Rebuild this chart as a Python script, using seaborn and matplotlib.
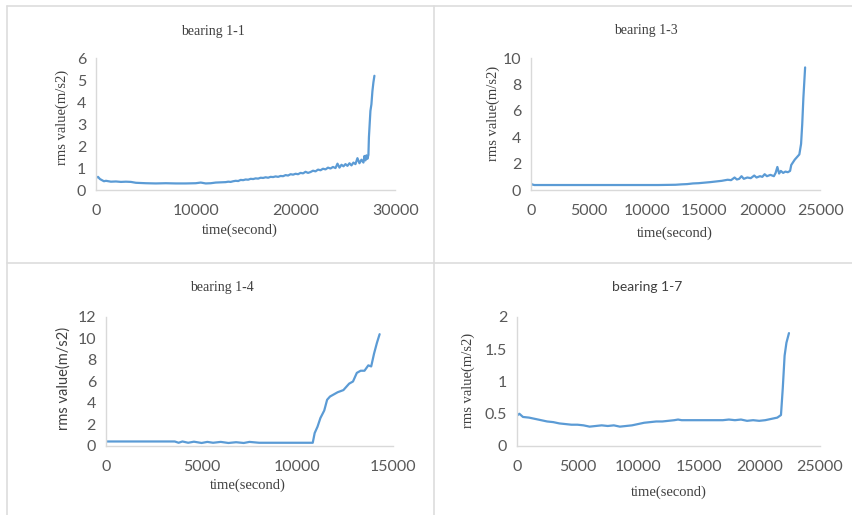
import numpy as np
import pandas as pd

import matplotlib.pyplot as plt
from matplotlib.lines import Line2D
import seaborn as sns

# bearing 1-1
t11 = [0, 200, 400, 600, 800, 1000, 1500, 2000, 2500, 3000, 3500, 4000, 4500,
       5000, 6000, 7000, 8000, 9000, 10000, 10500, 11000, 11500, 12000, 12500,
       13000, 13250, 13500, 13750, 14000, 14250, 14500, 14750, 15000, 15250,
       15500, 15750, 16000, 16250, 16500, 16750, 17000, 17250, 17500, 17750,
       18000, 18250, 18500, 18750, 19000, 19250, 19500, 19750, 20000, 20250,
       20500, 20750, 21000, 21250, 21500, 21750, 22000, 22250, 22500, 22750,
       23000, 23250, 23500, 23750, 24000, 24200, 24400, 24600, 24800, 25000,
       25200, 25400, 25600, 25800, 26000, 26200, 26400, 26600, 26800, 26900,
       27000, 27100, 27200, 27300, 27350, 27500, 27600, 27700, 27800, 27900]
r11 = [0.55, 0.60, 0.50, 0.45, 0.40, 0.42, 0.38, 0.39, 0.37, 0.38, 0.37, 0.33, 0.32,
       0.31, 0.30, 0.31, 0.30, 0.30, 0.31, 0.34, 0.30, 0.31, 0.34, 0.35,
       0.36, 0.38, 0.37, 0.40, 0.42, 0.41, 0.46, 0.45, 0.48, 0.47,
       0.51, 0.50, 0.53, 0.52, 0.56, 0.55, 0.58, 0.56, 0.60, 0.59,
       0.62, 0.60, 0.64, 0.63, 0.68, 0.66, 0.72, 0.70, 0.74, 0.72,
       0.78, 0.76, 0.83, 0.78, 0.82, 0.88, 0.85, 0.93, 0.90, 0.97,
       0.94, 1.02, 0.98, 1.05, 1.00, 1.20, 1.02, 1.15, 1.08, 1.18,
       1.10, 1.22, 1.12, 1.25, 1.18, 1.45, 1.22, 1.38, 1.25, 1.55,
       1.35, 1.58, 1.42, 1.60, 2.4, 3.6, 3.9, 4.5, 4.9, 5.2]

# bearing 1-3
t13 = [0, 100, 300, 2000, 5000, 8000, 11000, 12500, 13000, 13500, 14000, 14500,
       15000, 15500, 16000, 16500, 17000, 17300, 17600, 17800, 18000, 18200,
       18400, 18700, 19000, 19300, 19500, 19800, 20000, 20200, 20400, 20700,
       21000, 21150, 21300, 21450, 21600, 21800, 22000, 22200, 22400, 22500,
       22800, 23000, 23200, 23350, 23450, 23550, 23700]
r13 = [0.50, 0.42, 0.38, 0.38, 0.38, 0.38, 0.38, 0.40, 0.43, 0.45, 0.50, 0.52,
       0.56, 0.60, 0.65, 0.70, 0.78, 0.75, 0.95, 0.80, 0.85, 1.05,
       0.85, 0.95, 0.90, 1.10, 0.95, 1.05, 1.00, 1.20, 1.05, 1.15,
       1.05, 1.30, 1.75, 1.25, 1.45, 1.30, 1.40, 1.35, 1.45, 1.90,
       2.3, 2.5, 2.7, 3.5, 5.0, 7.0, 9.3]

# bearing 1-4
t14 = [0, 1000, 2000, 3000, 3600, 3800, 4000, 4300, 4600, 5000, 5300, 5600,
       6000, 6400, 6800, 7200, 7500, 8000, 9000, 10000, 10800, 10900, 11050,
       11200, 11400, 11550, 11700, 11900, 12100, 12400, 12700, 12900, 13100,
       13300, 13500, 13700, 13850, 14000, 14150, 14290]
r14 = [0.42, 0.42, 0.42, 0.42, 0.42, 0.30, 0.42, 0.30, 0.40, 0.28, 0.38, 0.30,
       0.38, 0.28, 0.35, 0.28, 0.38, 0.30, 0.30, 0.30, 0.30, 1.2, 1.8,
       2.6, 3.3, 4.3, 4.6, 4.8, 5.0, 5.2, 5.8, 6.0, 6.8, 7.0, 7.0, 7.5,
       7.4, 8.6, 9.6, 10.4]

# bearing 1-7
t17 = [0, 200, 500, 1000, 1500, 2000, 2500, 3000, 3500, 4000, 4500, 5000, 5500,
       6000, 6500, 7000, 7500, 8000, 8500, 9000, 9500, 10000, 10500, 11000,
       11500, 12000, 12500, 13000, 13300, 13600, 14000, 15000, 16000, 17000,
       17500, 18000, 18500, 19000, 19500, 20000, 20500, 21000, 21500, 21800,
       21950, 22100, 22250, 22460]
r17 = [0.47, 0.50, 0.45, 0.44, 0.42, 0.40, 0.38, 0.37, 0.35, 0.34, 0.33, 0.33, 0.32,
       0.30, 0.31, 0.32, 0.31, 0.32, 0.30, 0.31, 0.32, 0.34, 0.36, 0.37,
       0.38, 0.38, 0.39, 0.40, 0.41, 0.40, 0.40, 0.40, 0.40, 0.40,
       0.41, 0.40, 0.41, 0.39, 0.40, 0.39, 0.40, 0.42, 0.44, 0.48,
       0.9, 1.4, 1.6, 1.75]

titles = ["bearing 1-1", "bearing 1-3", "bearing 1-4", "bearing 1-7"]
x_max = [30000, 25000, 15000, 25000]
x_step = [10000, 5000, 5000, 5000]
y_max = [6, 10, 12, 2]
y_step = [1, 2, 2, 0.5]

sns.set_style("white")
plt.rcParams['font.family'] = ['Lato', 'DejaVu Sans']

fig = plt.figure(figsize=(8.53, 5.15), dpi=100)

# axes boxes (figure fractions)
boxes = [
    [0.1125, 0.631, 0.351, 0.256],
    [0.6225, 0.631, 0.339, 0.256],
    [0.124, 0.134, 0.337, 0.2505],
    [0.606, 0.134, 0.355, 0.2505],
]
series = [(t11, r11), (t13, r13), (t14, r14), (t17, r17)]

title_pos = [(0.25, 0.938), (0.757, 0.940), (0.26, 0.442), (0.759, 0.442)]
xlab_pos = [(0.281, 0.553), (0.791, 0.548), (0.291, 0.058), (0.784, 0.045)]
ylab_pos = [(0.073, 0.772), (0.578, 0.78), (0.074, 0.265), (0.549, 0.262)]
serif = ['Liberation Serif', 'DejaVu Serif']
sans = ['Lato', 'DejaVu Sans']
title_fam = [serif, serif, serif, sans]
ylab_fam = [serif, serif, sans, serif]

blue = "#5B9BD5"
gray = "#595959"
axis_col = "#D9D9D9"

for i in range(4):
    ax = fig.add_axes(boxes[i])
    df = pd.DataFrame({"time": series[i][0], "rms": series[i][1]})
    sns.lineplot(data=df, x="time", y="rms", color=blue, linewidth=1.6, ax=ax)
    ax.set_xlim(0, x_max[i])
    ax.set_ylim(0, y_max[i])
    ax.set_xticks(np.arange(0, x_max[i] + 1, x_step[i]))
    ax.set_yticks(np.arange(0, y_max[i] + 0.01, y_step[i]))
    ax.set_yticklabels([f"{v:g}" for v in ax.get_yticks()])
    ax.set_xlabel("")
    ax.set_ylabel("")
    for s in ["top", "right"]:
        ax.spines[s].set_visible(False)
    for s in ["left", "bottom"]:
        ax.spines[s].set_color(axis_col)
        ax.spines[s].set_linewidth(1.0)
    ax.tick_params(length=0, labelsize=11.5, colors=gray)
    ax.tick_params(axis="x", pad=10)
    ax.tick_params(axis="y", pad=7)

    fig.text(*title_pos[i], titles[i], ha="center", va="center",
             fontsize=10, color="#404040", family=title_fam[i])
    fig.text(*xlab_pos[i], "time(second)", ha="center", va="center",
             fontsize=10.5, color="#404040", family=serif)
    fig.text(*ylab_pos[i], "rms value(m/s2)", ha="center", va="center",
             rotation=90, fontsize=10.5, color="#404040", family=ylab_fam[i])

# panel separators
border = "#DDDDDD"
fig.add_artist(Line2D([0.008, 1.0], [0.988, 0.988], color=border, lw=1.2))
fig.add_artist(Line2D([0.008, 0.008], [0.0, 0.988], color=border, lw=1.2))
fig.add_artist(Line2D([0.509, 0.509], [0.0, 0.988], color=border, lw=1.2))
fig.add_artist(Line2D([0.008, 1.0], [0.489, 0.489], color=border, lw=1.2))

fig.savefig("out.png", dpi=100)
